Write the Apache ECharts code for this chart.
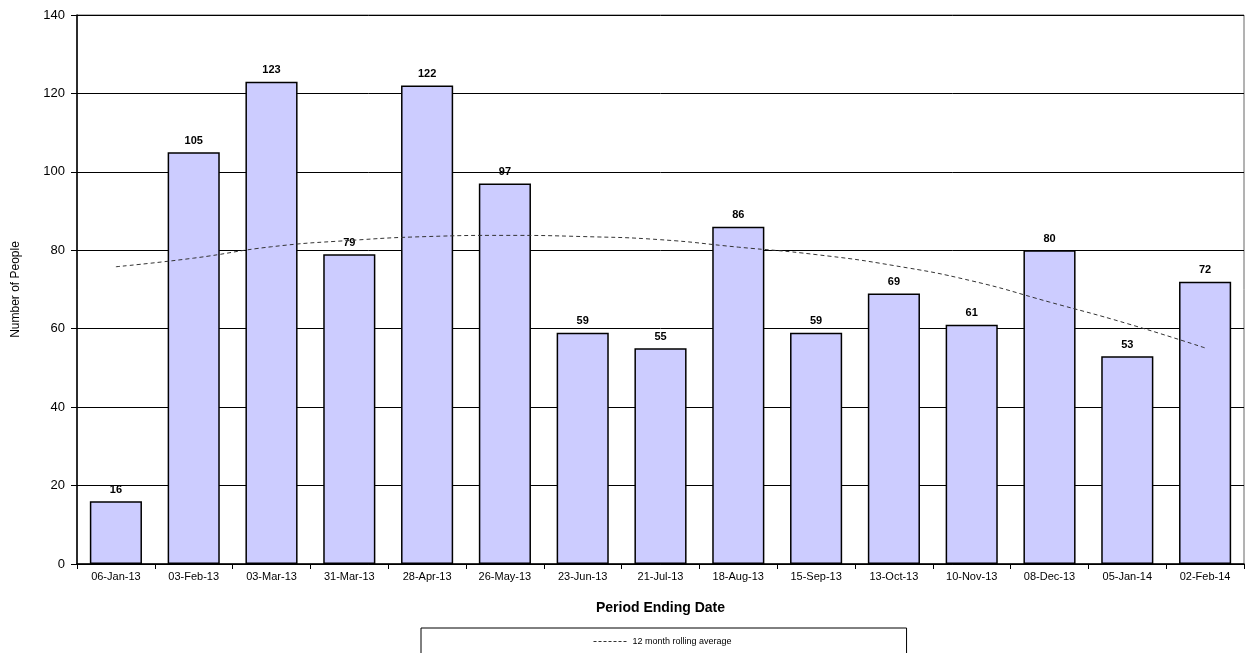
<!DOCTYPE html>
<html>
<head>
<meta charset="utf-8">
<script src="https://cdn.jsdelivr.net/npm/echarts@6/dist/echarts.min.js"></script>
<style>
  html, body { margin: 0; padding: 0; background: #fff; }
  #chart { width: 1251px; height: 653px; }
</style>
</head>
<body>
<div id="chart"></div>
<script>
const periods = ['06-Jan-13', '03-Feb-13', '03-Mar-13', '31-Mar-13', '28-Apr-13', '26-May-13', '23-Jun-13',
    '21-Jul-13', '18-Aug-13', '15-Sep-13', '13-Oct-13', '10-Nov-13', '08-Dec-13', '05-Jan-14', '02-Feb-14'];
const people = [16, 105, 123, 79, 122, 97, 59, 55, 86, 59, 69, 61, 80, 53, 72];
// trend line
const rollingAvg = [75.8, 78.0, 80.9, 82.5, 83.5, 83.8, 83.5, 82.7, 80.8, 78.9, 76.1, 72.2, 66.8, 61.3, 55.1];
const yTicks = [0, 20, 40, 60, 80, 100, 120, 140];

const FONT = '"Liberation Sans", Arial, sans-serif';
const chart = echarts.init(document.getElementById('chart'));

chart.setOption({
    animation: false,
    textStyle: { fontFamily: FONT },
    grid: {
        left: 77, right: 7, top: 15, bottom: 89,
        show: true, borderColor: '#666', borderWidth: 1
    },
    legend: {
        data: [{ name: '12 month rolling average' }],
        top: 628,
        left: 421,
        padding: [9, 175, 16, 172],
        borderColor: '#000',
        borderWidth: 1,
        itemWidth: 34,
        itemHeight: 8,
        itemGap: 4,
        itemStyle: { opacity: 0 },
        lineStyle: { color: '#333', width: 1, type: [3, 2] },
        textStyle: { fontSize: 9, color: '#000', fontFamily: FONT }
    },
    xAxis: {
        type: 'category',
        data: periods,
        name: 'Period Ending Date',
        nameLocation: 'middle',
        nameGap: 37,
        nameTextStyle: { fontSize: 14, fontWeight: 'bold', color: '#000', fontFamily: FONT },
        axisLine: { lineStyle: { color: '#000', width: 1.5 } },
        axisTick: { show: true, length: 5, lineStyle: { color: '#000' } },
        axisLabel: { fontSize: 11, color: '#000', margin: 7, interval: 0 }
    },
    yAxis: {
        type: 'value',
        min: 0, max: 140, interval: 20,
        name: 'Number of People',
        nameLocation: 'middle',
        nameGap: 55,
        nameTextStyle: { fontSize: 12, color: '#000', fontFamily: FONT },
        axisLine: { show: true, lineStyle: { color: '#000', width: 1.5 } },
        axisTick: { show: true, length: 6, lineStyle: { color: '#000' } },
        axisLabel: {
            fontSize: 13, color: '#000', margin: 12,
            formatter: v => yTicks.includes(v) ? String(v) : ''
        },
        splitLine: { lineStyle: { color: '#000', width: 1 } }
    },
    series: [
        {
            type: 'bar',
            name: 'People',
            data: people,
            barWidth: '67%',
            itemStyle: { color: '#ccccff', borderColor: '#000', borderWidth: 1.5 },
            label: {
                show: true, position: 'top', distance: 6,
                fontSize: 11, fontWeight: 'bold', color: '#000'
            },
            z: 2
        },
        {
            type: 'line',
            name: '12 month rolling average',
            data: rollingAvg,
            smooth: true,
            symbol: 'none',
            itemStyle: { color: '#333' },
            lineStyle: { color: '#333', width: 1, type: [4, 3] },
            z: 3
        }
    ]
});
</script>
</body>
</html>
